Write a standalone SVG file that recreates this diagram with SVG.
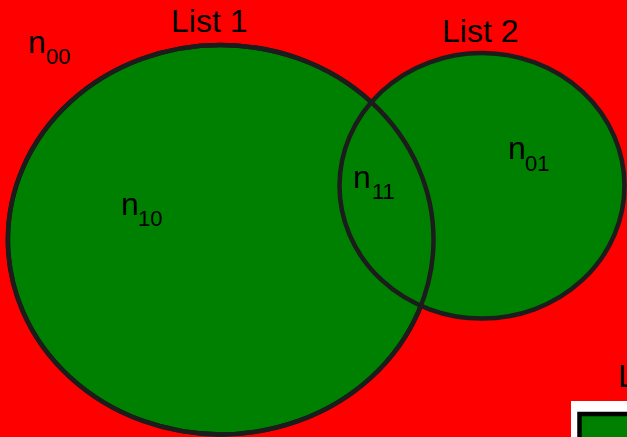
<svg xmlns="http://www.w3.org/2000/svg" width="627" height="437" viewBox="0 0 627 437">
<style>
.set{fill:#008000;stroke:#1c1c1c;stroke-width:4.5}
.t{font-family:"Liberation Sans",Arial,sans-serif;font-size:32px;fill:#000}
.s{font-size:22px}
</style>
<rect x="0" y="0" width="627" height="437" fill="#ff0000"/>
<g id="list1"><ellipse class="set" cx="220.7" cy="239.7" rx="212.8" ry="194.7"/></g>
<g id="list2"><ellipse class="set" cx="482" cy="185.8" rx="142.5" ry="132.8"/></g>
<g id="overlap-outline"><ellipse cx="220.7" cy="239.7" rx="212.8" ry="194.7" fill="none" stroke="#1c1c1c" stroke-width="4.5"/></g>
<g id="labels">
<text class="t" x="171" y="32">List 1</text>
<text class="t" x="442" y="42">List 2</text>
<text class="t" x="28" y="53">n<tspan class="s" x="46" y="64">00</tspan></text>
<text class="t" x="121" y="215">n<tspan class="s" x="138" y="226">10</tspan></text>
<text class="t" x="353" y="188">n<tspan class="s" x="372" y="199">11</tspan></text>
<text class="t" x="508" y="159">n<tspan class="s" x="525" y="171">01</tspan></text>
</g>
<g id="legend">
<text class="t" x="618" y="387">L</text>
<rect x="571" y="401" width="70" height="50" fill="#fff"/>
<rect x="579.5" y="414" width="60" height="40" fill="#008000" stroke="#000" stroke-width="4.5"/>
</g>
</svg>
